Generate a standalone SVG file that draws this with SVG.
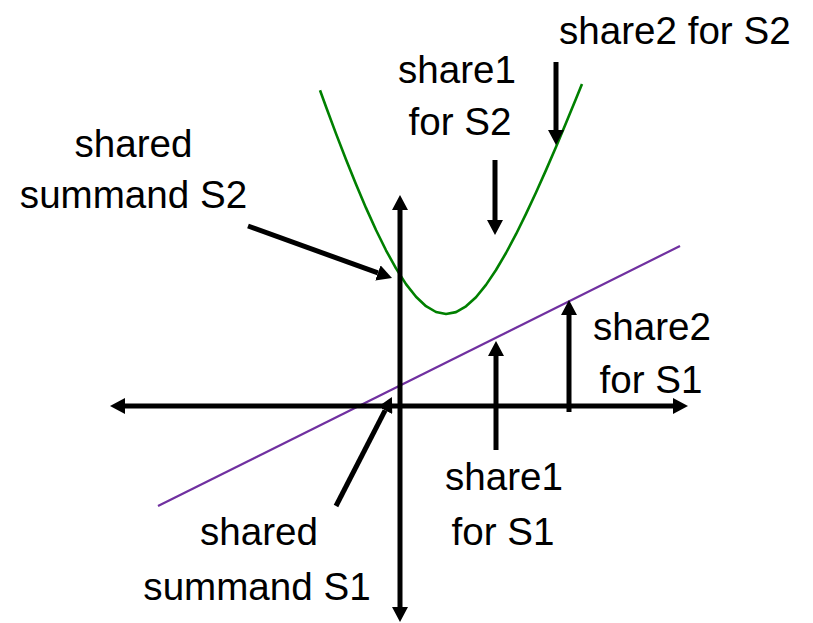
<svg xmlns="http://www.w3.org/2000/svg" width="813" height="623" viewBox="0 0 813 623">
<style>
text{font-family:"Liberation Sans",Arial,sans-serif;font-size:38.6px;fill:#000}
.m{text-anchor:middle}
.ar{stroke:#000;stroke-width:5;fill:none;marker-end:url(#h)}
.ax{stroke:#000;stroke-width:5;fill:none;marker-start:url(#h);marker-end:url(#h)}
</style>
<defs>
<marker id="h" markerUnits="userSpaceOnUse" viewBox="0 0 15 16" refX="0" refY="8" markerWidth="15" markerHeight="16" orient="auto-start-reverse">
<path d="M0,0 L15,8 L0,16 Z" fill="#000"/>
</marker>
</defs>
<rect width="813" height="623" fill="#fff"/>
<g id="curves">
<path id="parabola" fill="none" stroke="#008000" stroke-width="2.6" stroke-linejoin="round" d="M320,90.3 L326,106.8 L336,133.6 L346,159.5 L356,184.3 L366,207.9 L376,230 L386,250.3 L396,268.4 L406,284.1 L416,296.8 L426,306.2 L436,312 L446,314 L456,312.1 L466,306.3 L476,297.2 L486,284.9 L496,270 L506,253 L516,234.2 L526,213.9 L536,192.5 L546,170.1 L556,146.9 L566,123.1 L576,98.75 L582,83.9"/>
<line id="line" x1="158" y1="506" x2="680" y2="246" stroke="#7030A0" stroke-width="2.2"/>
</g>
<g id="axes">
<line class="ax" x1="400" y1="607" x2="400" y2="210"/>
<line class="ax" x1="125" y1="406" x2="673" y2="406"/>
</g>
<g id="connectors">
<line class="ar" x1="248" y1="226" x2="377.9" y2="272.9"/>
<line class="ar" x1="336" y1="506" x2="385.1" y2="410.3"/>
<line class="ar" x1="495" y1="160" x2="495" y2="220"/>
<line class="ar" x1="556" y1="62" x2="556" y2="130"/>
<line class="ar" x1="496" y1="450" x2="496" y2="356"/>
<line class="ar" x1="569" y1="412" x2="569" y2="315"/>
</g>
<g id="label-share2-S2"><text x="559" y="44">share2 for S2</text></g>
<g id="label-share1-S2"><text class="m" x="457" y="83">share1</text><text class="m" x="460" y="135">for S2</text></g>
<g id="label-summand-S2"><text class="m" x="133.5" y="157">shared</text><text class="m" x="133.5" y="208">summand S2</text></g>
<g id="label-share2-S1"><text class="m" x="652" y="340">share2</text><text class="m" x="651" y="393">for S1</text></g>
<g id="label-share1-S1"><text class="m" x="504" y="490">share1</text><text class="m" x="503" y="545">for S1</text></g>
<g id="label-summand-S1"><text class="m" x="259" y="545">shared</text><text class="m" x="257" y="600">summand S1</text></g>
</svg>
